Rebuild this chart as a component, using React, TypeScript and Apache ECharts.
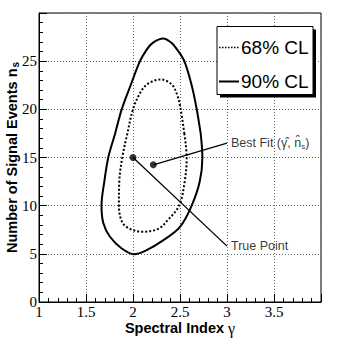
import React, { useEffect, useRef } from "react";
import * as echarts from "echarts";

// ---- data (γ, n_s) ----
const xTicksMin = 1;
const xTicksMax = 4;
const yTicksMin = 0;
const yTicksMax = 30;

const contour90: number[][] = [
  [2.72, 17.5], [2.738, 15], [2.71, 12.5], [2.624, 10], [2.5, 7.8], [2.32, 6.4],
  [2.13, 5.3], [2.01, 4.95], [1.88, 5.56], [1.755, 6.77], [1.684, 8.2], [1.665, 10],
  [1.695, 12.5], [1.737, 15], [1.81, 17.5], [1.88, 20], [1.975, 22.5], [2.074, 25],
  [2.146, 26.2], [2.21, 26.9], [2.32, 27.35], [2.41, 26.9], [2.47, 26.2], [2.546, 25],
  [2.624, 22.5], [2.678, 20], [2.72, 17.5],
];

const contour68: number[][] = [
  [2.546, 17.5], [2.571, 15], [2.55, 12.5], [2.49, 10], [2.37, 8.5], [2.27, 7.6],
  [2.11, 7.3], [1.99, 7.5], [1.89, 8.2], [1.85, 10], [1.854, 12.5], [1.886, 15],
  [1.94, 17.5], [2.0, 20], [2.07, 21.6], [2.15, 22.6], [2.294, 23.1], [2.41, 22.6],
  [2.47, 21.5], [2.507, 20], [2.546, 17.5],
];

const truePoint = [2.0, 15];
const bestFit = [2.216, 14.24];
const trueLabelAnchor = [3.0, 5.8];
const bestLabelAnchor = [3.0, 16.5];

const legendLabels = ["68% CL", "90% CL"];

const SANS = "Liberation Sans";
const SERIF = "Liberation Serif";

export default function App() {
  const ref = useRef<HTMLDivElement>(null);

  useEffect(() => {
    if (!ref.current) return;
    const chart = echarts.init(ref.current, undefined, { renderer: "svg" });

    const axisCommon = {
      axisLine: { show: true, lineStyle: { color: "#000", width: 1 } },
      axisTick: { show: true, inside: true, length: 8, lineStyle: { color: "#000" } },
      minorTick: { show: true, splitNumber: 5, length: 4, lineStyle: { color: "#000" } },
      splitLine: { show: true, lineStyle: { color: "#666", type: [1, 2], width: 1 } },
      minorSplitLine: { show: false },
      nameMoveOverlap: false,
    };

    const tickLabel = {
      showMaxLabel: false,
      fontFamily: SERIF,
      fontSize: 15,
      color: "#000",
      margin: 2,
    };

    const option: any = {
      animation: false,
      backgroundColor: "#fff",
      textStyle: { fontFamily: SANS },
      grid: {
        left: 39,
        right: 35,
        top: 13,
        bottom: 41,
        containLabel: false,
        outerBoundsMode: "none",
        show: true,
        borderColor: "#000",
        borderWidth: 1,
        backgroundColor: "transparent",
      },
      xAxis: {
        type: "value",
        min: xTicksMin,
        max: xTicksMax,
        interval: 0.5,
        ...axisCommon,
        axisLabel: tickLabel,
        name: "Spectral Index {g|γ}",
        nameLocation: "middle",
        nameGap: 18,
        nameTextStyle: {
          fontFamily: SANS,
          fontWeight: "bold",
          fontSize: 14.5,
          color: "#000",
          rich: {
            g: { fontFamily: SERIF, fontWeight: "normal", fontSize: 16, color: "#000" },
          },
        },
      },
      yAxis: {
        type: "value",
        min: yTicksMin,
        max: yTicksMax,
        interval: 5,
        ...axisCommon,
        axisLabel: tickLabel,
        name: "Number of Signal Events n{s|s}",
        nameLocation: "middle",
        nameGap: 19,
        nameTextStyle: {
          fontFamily: SANS,
          fontWeight: "bold",
          fontSize: 14.5,
          color: "#000",
          rich: {
            s: { fontFamily: SANS, fontWeight: "bold", fontSize: 10, color: "#000", padding: [6, 0, 0, 1] },
          },
        },
      },
      series: [
        {
          type: "line",
          name: "90% CL",
          data: contour90,
          smooth: 0.35,
          symbol: "none",
          lineStyle: { color: "#000", width: 2 },
          z: 3,
        },
        {
          type: "line",
          name: "68% CL",
          data: contour68,
          smooth: 0.35,
          symbol: "none",
          lineStyle: { color: "#000", width: 2, type: [2, 2] },
          z: 3,
        },
        {
          type: "line",
          data: [truePoint, trueLabelAnchor],
          symbol: "none",
          lineStyle: { color: "#000", width: 1.3 },
          z: 4,
        },
        {
          type: "line",
          data: [bestFit, bestLabelAnchor],
          symbol: "none",
          lineStyle: { color: "#000", width: 1.3 },
          z: 4,
        },
        {
          type: "scatter",
          data: [truePoint, bestFit],
          symbol: "circle",
          symbolSize: 7,
          itemStyle: { color: "#000" },
          z: 5,
        },
        {
          type: "scatter",
          data: [
            { value: trueLabelAnchor, label: { formatter: "True Point" } },
            { value: bestLabelAnchor, label: { formatter: "Best Fit (γ̂, n̂{s|s})" } },
          ],
          symbolSize: 0,
          z: 5,
          label: {
            show: true,
            position: "right",
            distance: 4,
            fontFamily: SANS,
            fontSize: 12.5,
            color: "#000",
            rich: {
              s: { fontFamily: SANS, fontSize: 8, color: "#000", padding: [6, 0, 0, 0] },
            },
          },
        },
      ],
      graphic: [
        {
          type: "rect",
          shape: { x: 220, y: 29.5, width: 96, height: 68 },
          style: { fill: "#000" },
          z: 10,
        },
        {
          type: "rect",
          shape: { x: 217, y: 26.5, width: 96, height: 68 },
          style: { fill: "#fff", stroke: "#000", lineWidth: 1 },
          z: 11,
        },
        {
          type: "line",
          shape: { x1: 219, y1: 47.5, x2: 239, y2: 47.5 },
          style: { stroke: "#000", lineWidth: 1.5, lineDash: [1.5, 1.5] },
          z: 12,
        },
        {
          type: "line",
          shape: { x1: 219, y1: 81.5, x2: 239, y2: 81.5 },
          style: { stroke: "#000", lineWidth: 2 },
          z: 12,
        },
        {
          type: "text",
          x: 241,
          y: 47.5,
          style: {
            text: legendLabels[0],
            font: `19px ${SANS}`,
            fill: "#000",
            verticalAlign: "middle",
          },
          z: 12,
        },
        {
          type: "text",
          x: 241,
          y: 81.5,
          style: {
            text: legendLabels[1],
            font: `19px ${SANS}`,
            fill: "#000",
            verticalAlign: "middle",
          },
          z: 12,
        },
      ],
    };

    chart.setOption(option);
    return () => chart.dispose();
  }, []);

  return (
    <div
      ref={ref}
      style={{ position: "absolute", left: 0, top: 0, width: 356, height: 343 }}
    />
  );
}
